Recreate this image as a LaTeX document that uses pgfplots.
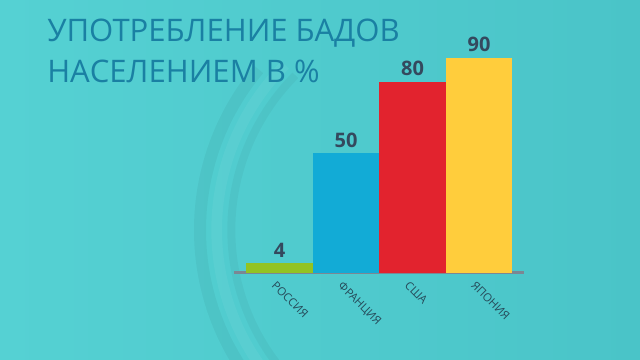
\documentclass[border=0pt]{standalone}
\usepackage{pgfplots}
\pgfplotsset{compat=1.18}
\usepackage{fontspec}
\setmainfont{Open Sans}
\definecolor{bgl}{HTML}{55D1D3}
\definecolor{bgr}{HTML}{4AC4C8}
\definecolor{titlec}{HTML}{1A80A3}
\definecolor{numc}{HTML}{34495E}
\definecolor{labc}{HTML}{264B5A}
\definecolor{axc}{HTML}{7B8793}
\definecolor{cgreen}{HTML}{93C322}
\definecolor{cblue}{HTML}{12ABD6}
\definecolor{cred}{HTML}{E2232E}
\definecolor{cyellow}{HTML}{FFCD3C}
\begin{document}
\begin{tikzpicture}
\useasboundingbox (0,0) rectangle (480pt,270pt);
\shade[left color=bgl, right color=bgr] (0,0) rectangle (480pt,270pt);
\begin{scope}
\clip (0,0) rectangle (480pt,270pt);
\draw[black, opacity=0.045, line width=9pt] (337.5pt,97.5pt) ++(140:187.5pt) arc (140:235:187.5pt);
\draw[white, opacity=0.05, line width=8pt] (337.5pt,97.5pt) ++(135:175pt) arc (135:235:175pt);
\draw[black, opacity=0.035, line width=6pt] (337.5pt,97.5pt) ++(135:164pt) arc (135:235:164pt);
\end{scope}
\node[anchor=base west, inner sep=0pt, font=\fontsize{23.3}{26}\selectfont, text=titlec] at (35.25pt,238.5pt) {УПОТРЕБЛЕНИЕ БАДОВ};
\node[anchor=base west, inner sep=0pt, font=\fontsize{23.3}{26}\selectfont, text=titlec] at (35.25pt,207.75pt) {НАСЕЛЕНИЕМ В \%};
\begin{axis}[
  at={(175.5pt,65.25pt)}, anchor=south west,
  scale only axis, width=217.5pt, height=179.25pt,
  xmin=-0.684, xmax=3.675, ymin=0, ymax=100,
  axis x line=bottom, axis y line=none,
  x axis line style={-, draw=axc, line width=2.25pt},
  xtick={0,1,2,3}, xticklabels={РОССИЯ,ФРАНЦИЯ,США,ЯПОНИЯ},
  major tick length=0pt,
  xticklabel style={xshift=-1.9pt, yshift=-0.9pt, rotate=-45, anchor=north west, font=\fontsize{8.5}{10}\selectfont, text=labc},
  /pgf/number format/assume math mode=true,
  nodes near coords,
  every node near coord/.append style={font=\fontsize{15}{17}\selectfont\bfseries, text=numc, anchor=south, yshift=1pt},
  clip=false,
]
\addplot[ybar, bar width=49.9pt, bar shift=0pt, fill=cgreen, draw=none] coordinates {(0,4)};
\addplot[ybar, bar width=49.9pt, bar shift=0pt, fill=cblue, draw=none] coordinates {(1,50)};
\addplot[ybar, bar width=49.9pt, bar shift=0pt, fill=cred, draw=none] coordinates {(2,80)};
\addplot[ybar, bar width=49.9pt, bar shift=0pt, fill=cyellow, draw=none] coordinates {(3,90)};
\end{axis}
\end{tikzpicture}
\end{document}
